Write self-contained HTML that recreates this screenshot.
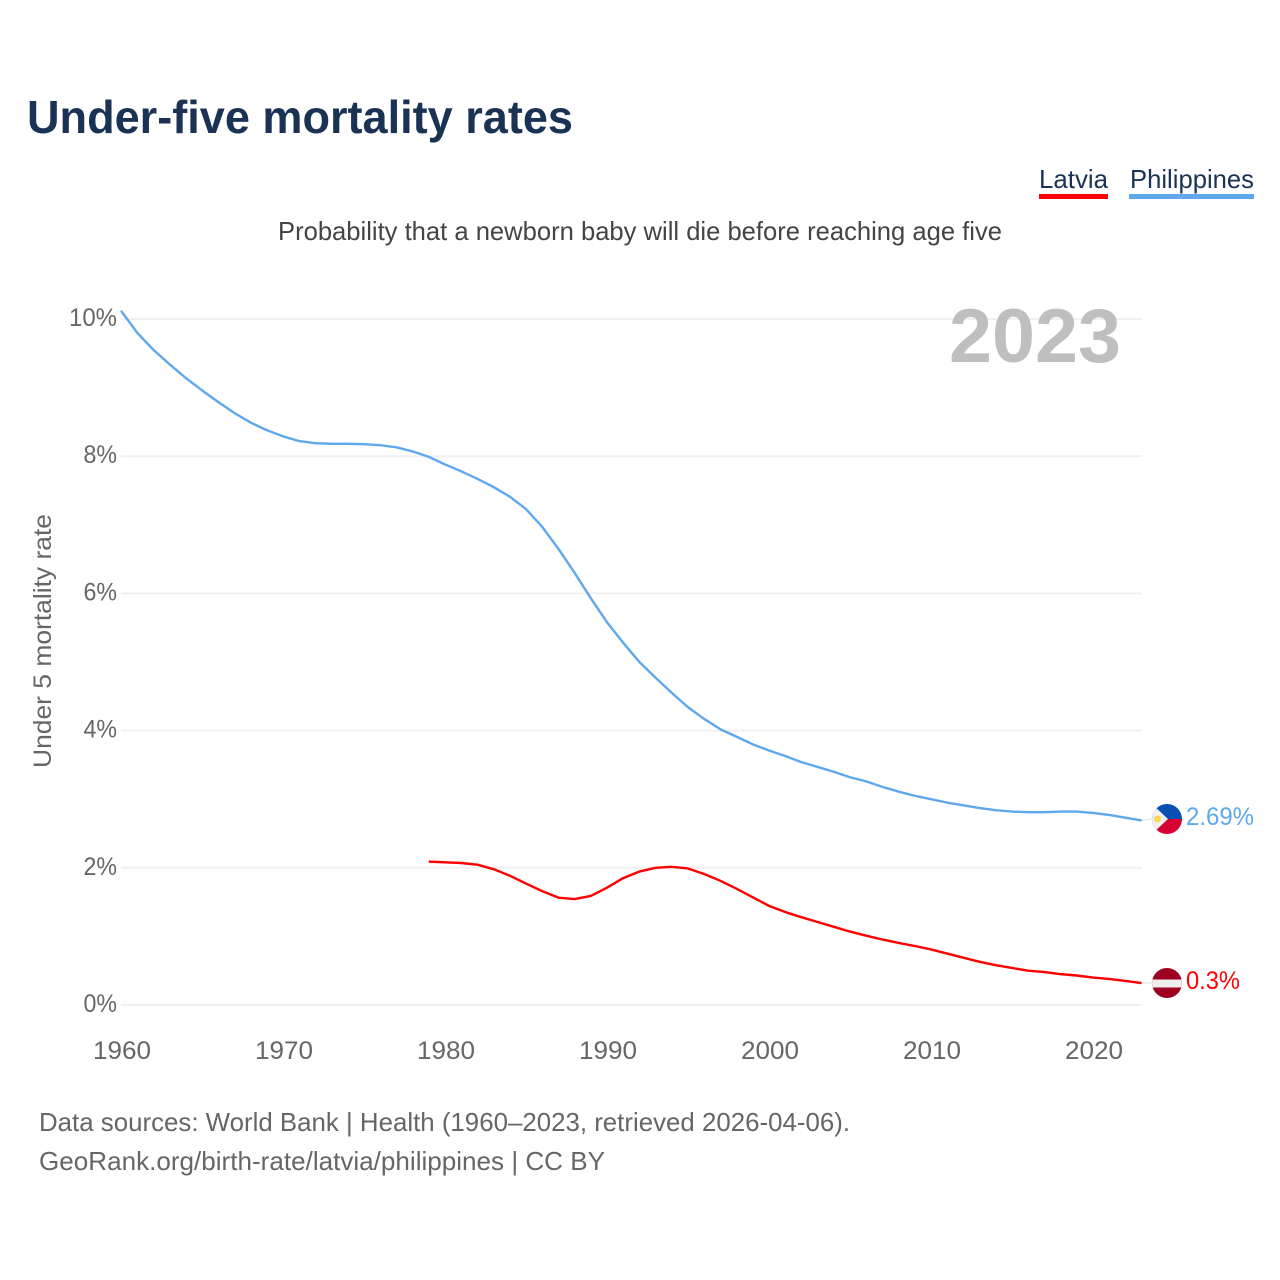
<!DOCTYPE html>
<html lang="en">
<head>
<meta charset="utf-8">
<title>Under-five mortality rates</title>
<style>
html,body{margin:0;padding:0;background:#fff;width:1280px;height:1280px;overflow:hidden}
svg{display:block;font-family:"Liberation Sans",Arial,sans-serif}
</style>
</head>
<body>
<svg id="chart" width="1280" height="1280" viewBox="0 0 1280 1280" xmlns="http://www.w3.org/2000/svg">
  <defs>
    <clipPath id="clip-ph"><circle cx="1167" cy="819" r="15"/></clipPath>
    <clipPath id="clip-lv"><circle cx="1167" cy="983" r="15"/></clipPath>
  </defs>
  <rect width="1280" height="1280" fill="#fff"/>
  <text x="27" y="133" font-size="46" font-weight="700" fill="#1a3355" textLength="546" lengthAdjust="spacingAndGlyphs">Under-five mortality rates</text>

  <g>
    <text x="1039" y="188" font-size="26" fill="#1a3355" textLength="69" lengthAdjust="spacingAndGlyphs">Latvia</text>
    <rect x="1039" y="194" width="69" height="5" fill="#ff0000"/>
  </g>
  <g>
    <text x="1130" y="188" font-size="26" fill="#1a3355" textLength="124" lengthAdjust="spacingAndGlyphs">Philippines</text>
    <rect x="1129" y="194" width="125" height="5" fill="#5fa8ee"/>
  </g>

  <text x="278" y="240" font-size="26" fill="#444" textLength="724" lengthAdjust="spacingAndGlyphs">Probability that a newborn baby will die before reaching age five</text>

  <g id="grid"></g>

  <text x="949" y="362" font-size="76" font-weight="700" fill="#bfbfbf" textLength="172" lengthAdjust="spacingAndGlyphs">2023</text>

  <g id="yticks"></g>
  <g id="xticks"></g>
  <text transform="translate(51,768) rotate(-90)" x="0" y="0" font-size="25" fill="#666" textLength="254" lengthAdjust="spacingAndGlyphs">Under 5 mortality rate</text>

  <g id="series"></g>

  <g clip-path="url(#clip-ph)">
    <rect x="1152" y="804" width="30" height="15" fill="#0a50b4"/>
    <rect x="1152" y="819" width="30" height="15" fill="#d80032"/>
    <polygon points="1152,804 1168,819 1152,834" fill="#f2f2f2"/>
    <circle cx="1157.5" cy="819" r="3.5" fill="#fcd856"/>
  </g>
  <g clip-path="url(#clip-lv)">
    <rect x="1152" y="968" width="30" height="30" fill="#9e0020"/>
    <rect x="1152" y="979.5" width="30" height="8" fill="#eeeeee"/>
  </g>

  <text x="1186" y="825" font-size="25" fill="#5fa8ee" textLength="68" lengthAdjust="spacingAndGlyphs">2.69%</text>
  <text x="1186" y="989" font-size="25" fill="#ff0000" textLength="54" lengthAdjust="spacingAndGlyphs">0.3%</text>

  <text x="39" y="1131" font-size="26" fill="#666" textLength="811" lengthAdjust="spacingAndGlyphs">Data sources: World Bank | Health (1960–2023, retrieved 2026-04-06).</text>
  <text x="39" y="1170" font-size="26" fill="#666" textLength="566" lengthAdjust="spacingAndGlyphs">GeoRank.org/birth-rate/latvia/philippines | CC BY</text>
</svg>
<script>
const yTickValues = [0, 2, 4, 6, 8, 10];
const xTickYears = [1960, 1970, 1980, 1990, 2000, 2010, 2020];
const philippinesStartYear = 1960;
const philippinesValues = [
  10.12, 9.80, 9.55, 9.34, 9.14, 8.96, 8.79, 8.63, 8.49, 8.38,
  8.29, 8.22, 8.19, 8.18, 8.18, 8.175, 8.16, 8.13, 8.07, 7.99,
  7.88, 7.78, 7.67, 7.55, 7.41, 7.23, 6.97, 6.65, 6.30, 5.93,
  5.58, 5.28, 5.00, 4.77, 4.55, 4.34, 4.17, 4.02, 3.91, 3.80,
  3.71, 3.63, 3.54, 3.47, 3.40, 3.32, 3.26, 3.18, 3.11, 3.05,
  3.00, 2.95, 2.91, 2.87, 2.84, 2.82, 2.81, 2.81, 2.82, 2.82,
  2.80, 2.77, 2.73, 2.69
];
const latviaStartYear = 1979;
const latviaValues = [
  2.09, 2.08, 2.07, 2.045, 1.98, 1.885, 1.77, 1.66, 1.565, 1.545,
  1.59, 1.71, 1.85, 1.945, 2.00, 2.015, 1.99, 1.91, 1.81, 1.695,
  1.57, 1.445, 1.355, 1.28, 1.21, 1.14, 1.07, 1.01, 0.955, 0.905,
  0.86, 0.81, 0.75, 0.69, 0.63, 0.58, 0.54, 0.50, 0.48, 0.45,
  0.43, 0.40, 0.38, 0.35, 0.32
];

const NS = 'http://www.w3.org/2000/svg';
const xScale = function (year) { return 121 + (year - 1960) * 16.2; };
const yScale = function (v) { return 1005 - v * 68.6; };

const grid = document.getElementById('grid');
const yticks = document.getElementById('yticks');
const xticks = document.getElementById('xticks');
const series = document.getElementById('series');

yTickValues.forEach(function (v) {
  const line = document.createElementNS(NS, 'line');
  
  
  line.setAttribute('x1', 121);
  line.setAttribute('x2', 1141.5);
  line.setAttribute('y1', yScale(v));
  line.setAttribute('y2', yScale(v));
  line.setAttribute('stroke', '#f0f0f0');
  line.setAttribute('stroke-width', 2);
  grid.appendChild(line);

  const label = String(v) + '%';
  const t = document.createElementNS(NS, 'text');
  
  
  t.setAttribute('x', 117);
  t.setAttribute('y', yScale(v) + 7);
  t.setAttribute('text-anchor', 'end');
  t.setAttribute('font-size', 25);
  t.setAttribute('fill', '#666');
  t.setAttribute('textLength', (label.length - 1) * 14.5 + 19);
  t.setAttribute('lengthAdjust', 'spacingAndGlyphs');
  t.textContent = label;
  yticks.appendChild(t);
});

xTickYears.forEach(function (year) {
  const t = document.createElementNS(NS, 'text');
  
  
  t.setAttribute('x', xScale(year) + 1);
  t.setAttribute('y', 1059);
  t.setAttribute('text-anchor', 'middle');
  t.setAttribute('font-size', 25);
  t.setAttribute('fill', '#666');
  t.setAttribute('textLength', 58);
  t.setAttribute('lengthAdjust', 'spacingAndGlyphs');
  t.textContent = String(year);
  xticks.appendChild(t);
});

function pathFor(values, startYear) {
  return values.map(function (v, i) {
    return (i ? 'L' : 'M') + xScale(startYear + i).toFixed(2) + ' ' + yScale(v).toFixed(2);
  }).join(' ');
}

function connector(values, cy) {
  const line = document.createElementNS(NS, 'line');
  
  
  line.setAttribute('x1', xScale(2023));
  line.setAttribute('y1', yScale(values[values.length - 1]));
  line.setAttribute('x2', 1152);
  line.setAttribute('y2', cy);
  line.setAttribute('stroke', '#dddddd');
  line.setAttribute('stroke-width', 1);
  series.appendChild(line);
}
connector(philippinesValues, 819);
connector(latviaValues, 983);

const phLine = document.createElementNS(NS, 'path');


phLine.setAttribute('d', pathFor(philippinesValues, philippinesStartYear));
phLine.setAttribute('fill', 'none');
phLine.setAttribute('stroke', '#5fa8ee');
phLine.setAttribute('stroke-width', 2.4);
phLine.setAttribute('stroke-linejoin', 'round');
series.appendChild(phLine);

const lvLine = document.createElementNS(NS, 'path');


lvLine.setAttribute('d', pathFor(latviaValues, latviaStartYear));
lvLine.setAttribute('fill', 'none');
lvLine.setAttribute('stroke', '#ff0000');
lvLine.setAttribute('stroke-width', 2.4);
lvLine.setAttribute('stroke-linejoin', 'round');
series.appendChild(lvLine);
</script>
</body>
</html>
